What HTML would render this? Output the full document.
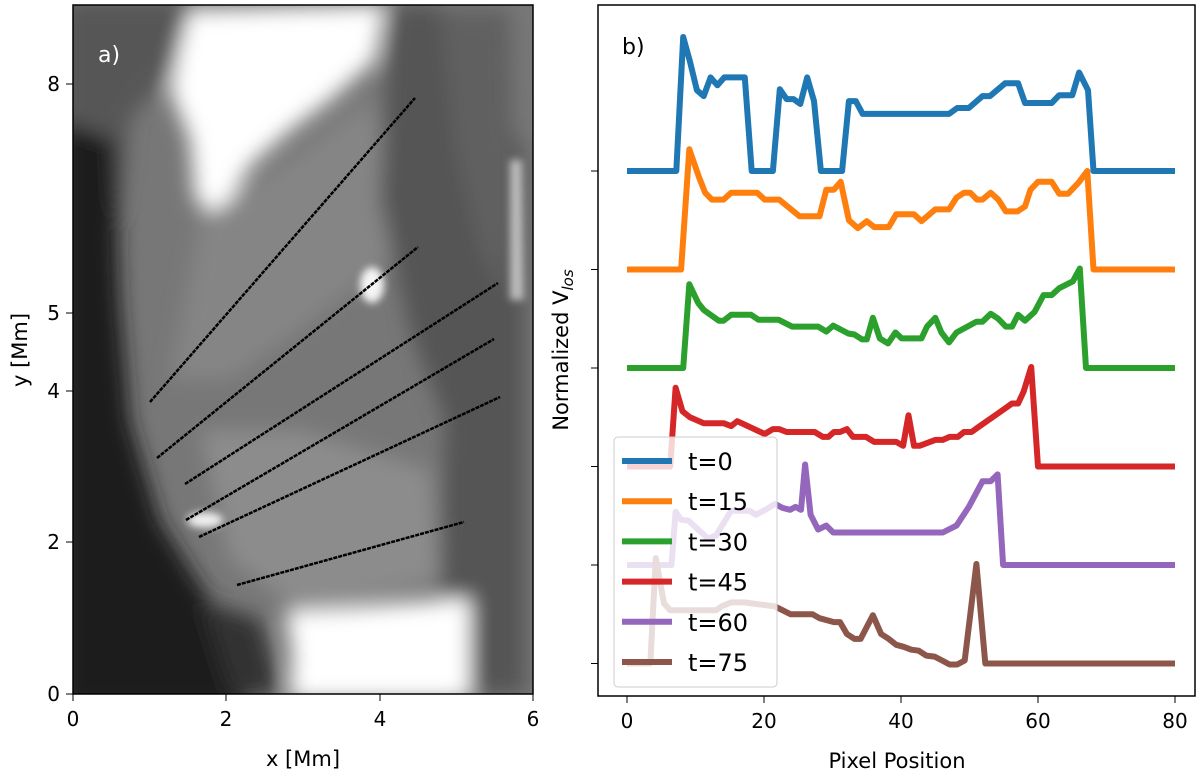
<!DOCTYPE html>
<html><head><meta charset="utf-8">
<style>
body{margin:0;background:#fff;width:1200px;height:779px;overflow:hidden;font-family:"DejaVu Sans","Liberation Sans",sans-serif;}
svg text{font-family:"DejaVu Sans","Liberation Sans",sans-serif;}
</style></head>
<body>
<svg id="fig" width="1200" height="779" viewBox="0 0 1200 779">
<defs>
<filter id="b8" x="-20%" y="-20%" width="140%" height="140%"><feGaussianBlur stdDeviation="10"/></filter>
<filter id="b4" x="-20%" y="-20%" width="140%" height="140%"><feGaussianBlur stdDeviation="4"/></filter>
<clipPath id="lc"><rect x="73" y="5" width="460" height="689"/></clipPath>
</defs>
<g id="left">
<g clip-path="url(#lc)">
<rect x="60" y="0" width="490" height="710" fill="#777"/>
<g filter="url(#b8)">
<polygon points="60,0 200,0 180,60 130,120 110,300 60,300" fill="#575757"/>
<polygon points="60,120 115,140 120,300 130,420 160,520 210,600 250,710 60,710" fill="#1e1e1e"/>
<polygon points="190,10 385,5 375,60 330,100 290,130 250,165 220,220 195,200 190,140 170,90 180,45" fill="#fff"/>
<polygon points="200,220 290,160 370,100 390,160 390,260 300,330 230,380 170,380" fill="#858585"/>
<polygon points="390,5 440,5 525,150 525,694 470,694 440,600 445,420 410,330 380,200" fill="#555"/>
<polygon points="440,10 510,10 515,200 505,300 480,250 455,150" fill="#606060"/>
<polygon points="200,430 300,430 430,470 440,580 300,610 230,560" fill="#8c8c8c"/>
<polygon points="285,612 470,598 470,700 290,700 292,650" fill="#fff"/>
<polygon points="200,600 260,620 280,694 230,694" fill="#333"/>
</g>
<g filter="url(#b4)">
<polygon points="510,160 522,160 524,300 510,300" fill="#bbb"/>
<ellipse cx="372" cy="285" rx="12" ry="18" fill="#f5f5f5"/>
<ellipse cx="205" cy="520" rx="18" ry="8" fill="#eee"/>
</g>
</g>
<g stroke="#000" stroke-width="2.5" stroke-dasharray="4 1">
<line x1="150" y1="402" x2="415" y2="98"/>
<line x1="157" y1="458" x2="418" y2="247"/>
<line x1="185" y1="484" x2="498" y2="283"/>
<line x1="186" y1="520" x2="494" y2="339"/>
<line x1="199" y1="537" x2="500" y2="397"/>
<line x1="237" y1="585" x2="464" y2="522"/>
</g>
<text x="98" y="62" font-size="22" fill="#fff">a)</text>
<rect x="73" y="5" width="460" height="689" fill="none" stroke="#000" stroke-width="1.5"/>
<g font-size="20" text-anchor="middle">
<line x1="73" y1="694" x2="73" y2="701" stroke="#000"/><text x="73" y="726">0</text>
<line x1="226" y1="694" x2="226" y2="701" stroke="#000"/><text x="226" y="726">2</text>
<line x1="380" y1="694" x2="380" y2="701" stroke="#000"/><text x="380" y="726">4</text>
<line x1="533" y1="694" x2="533" y2="701" stroke="#000"/><text x="533" y="726">6</text>
</g>
<g font-size="20" text-anchor="end">
<line x1="66" y1="694" x2="73" y2="694" stroke="#000"/><text x="60" y="701">0</text>
<line x1="66" y1="542" x2="73" y2="542" stroke="#000"/><text x="60" y="549">2</text>
<line x1="66" y1="391" x2="73" y2="391" stroke="#000"/><text x="60" y="398">4</text>
<line x1="66" y1="313" x2="73" y2="313" stroke="#000"/><text x="60" y="320">5</text>
<line x1="66" y1="84" x2="73" y2="84" stroke="#000"/><text x="60" y="91">8</text>
</g>
<text x="303" y="766" font-size="21" text-anchor="middle">x [Mm]</text>
<text transform="translate(27,350) rotate(-90)" font-size="21" text-anchor="middle">y [Mm]</text>
</g>
<g id="right"></g>
</svg>
<script>
const seriesLabels=["t=0","t=15","t=30","t=45","t=60","t=75"];
const seriesColors=["#1f77b4","#ff7f0e","#2ca02c","#d62728","#9467bd","#8c564b"];
const xTicks=[0,20,40,60,80];
const x0=[0,7.2,8.2,9.2,10.2,11.2,12.2,13.2,14.2,17.2,18.2,21.3,22.3,23.3,24.3,25.3,26.3,27.3,28.3,31.4,32.4,33.4,34.4,47,48.2,49.9,51.9,53,55.2,57.1,58.1,62,63.1,65,66,67.3,68.1,80];
const v0=[0,0,1.36,1.11,0.82,0.76,0.95,0.87,0.95,0.95,0,0,0.83,0.73,0.73,0.68,0.95,0.71,0,0,0.71,0.71,0.58,0.58,0.64,0.64,0.76,0.76,0.89,0.89,0.69,0.69,0.77,0.77,1.0,0.82,0,0];
const x15=[0,7.9,9.1,10.5,11.4,12.4,14.1,15.2,19.0,20.1,22.2,25.2,28.1,29.1,30.2,31.2,32.4,33.7,35.0,36.1,38.2,39.3,41.9,43.0,45.0,47.0,48.1,49.2,50.1,51.1,51.9,53.1,54.2,55.3,57.0,58.1,58.9,60.0,62.0,63.1,64.4,65.9,67.2,68.1,80];
const v15=[0,0,1.22,0.94,0.78,0.71,0.71,0.78,0.78,0.71,0.71,0.54,0.54,0.81,0.81,0.89,0.50,0.42,0.49,0.43,0.43,0.56,0.56,0.49,0.61,0.61,0.73,0.78,0.78,0.71,0.71,0.78,0.71,0.59,0.59,0.64,0.81,0.89,0.89,0.77,0.77,0.88,1.0,0,0];
const x30=[0,8.2,9.1,10.4,11.2,13.4,14.1,15.2,18.1,19.2,22.1,24.1,27.9,29.1,30.1,32.3,33.2,34.3,35.0,35.9,36.9,38.1,39.2,40.1,43.0,43.8,45.0,45.9,47.0,48.1,51.0,51.9,53.1,54.2,55.3,56.2,57.1,58.1,59.5,60.8,62.0,63.1,65.1,66.1,67.0,80];
const v30=[0,0,0.85,0.66,0.59,0.48,0.48,0.54,0.54,0.49,0.49,0.42,0.42,0.37,0.43,0.35,0.34,0.29,0.29,0.51,0.30,0.25,0.36,0.30,0.30,0.42,0.51,0.36,0.26,0.36,0.47,0.47,0.55,0.50,0.42,0.42,0.54,0.48,0.57,0.74,0.74,0.81,0.88,1.01,0,0];
const x45=[0,6.3,7.1,8.1,9.2,11.2,14.1,15.2,16.1,20.1,21.3,22.2,23.3,27.4,28.6,29.4,30.2,31.1,32.1,33.0,34.9,36.1,39.3,40.3,41.1,41.9,42.7,45.0,46.1,47.1,48.3,49.2,50.3,51.1,55.2,56.2,57.1,57.9,59.0,60.0,80];
const v45=[0,0,0.80,0.56,0.50,0.44,0.44,0.41,0.46,0.33,0.38,0.38,0.35,0.35,0.30,0.30,0.35,0.35,0.38,0.30,0.30,0.25,0.25,0.21,0.52,0.21,0.21,0.27,0.27,0.30,0.30,0.35,0.35,0.39,0.59,0.64,0.64,0.76,1.01,0,0];
const x60=[0,6.5,7.1,7.9,9.0,11.8,13.0,15.2,17.9,18.8,20.2,21.6,22.7,23.8,24.6,25.4,26.0,26.8,27.9,29.1,30.1,46.1,48.1,49.9,51.9,53.1,54.1,54.9,80];
const v60=[0,0,0.54,0.46,0.45,0.27,0.30,0.55,0.55,0.51,0.56,0.62,0.58,0.56,0.59,0.56,1.02,0.51,0.36,0.40,0.33,0.33,0.40,0.59,0.85,0.85,0.92,0,0];
const x75=[0,3.4,4.2,5.4,6.3,13.0,13.8,15.2,17.1,21.6,23.9,27.1,28.1,30.2,31.1,32.1,33.2,34.1,35.9,37.1,38.2,39.3,40.4,41.5,42.6,43.7,44.9,46.0,47.1,48.2,49.3,51.0,52.3,80];
const v75=[0,0,1.07,0.61,0.54,0.54,0.58,0.62,0.62,0.58,0.50,0.50,0.46,0.42,0.42,0.30,0.25,0.25,0.49,0.30,0.25,0.19,0.17,0.14,0.13,0.08,0.07,0.03,-0.01,-0.01,0.03,1.01,0,0];
const seriesX=[x0,x15,x30,x45,x60,x75];
const seriesV=[v0,v15,v30,v45,v60,v75];

const NS="http://www.w3.org/2000/svg";
const R={l:598,r:1195,t:5,b:696};
function sx(v){return 627+v*(1175-627)/80;}
function sy(k,v){return 171+k*98.5-v*98.5;}
function mk(tag,attrs,parent){const e=document.createElementNS(NS,tag);for(const k in attrs)e.setAttribute(k,attrs[k]);parent.appendChild(e);return e;}
const g=document.getElementById('right');
const cp=mk('clipPath',{id:'rc'},g);mk('rect',{x:R.l,y:R.t,width:R.r-R.l,height:R.b-R.t},cp);
const lines=mk('g',{'clip-path':'url(#rc)'},g);
seriesV.forEach((vals,k)=>{
  const pts=vals.map((v,i)=>sx(seriesX[k][i]).toFixed(1)+','+sy(k,v).toFixed(1)).join(' ');
  const pl=mk('polyline',{points:pts,fill:'none',stroke:seriesColors[k],'stroke-width':6,'stroke-linejoin':'round'},lines);
  
  
});
const fr=mk('rect',{x:R.l,y:R.t,width:R.r-R.l,height:R.b-R.t,fill:'none',stroke:'#000','stroke-width':1.5},g);


xTicks.forEach(t=>{
  mk('line',{x1:sx(t),x2:sx(t),y1:R.b,y2:R.b+7,stroke:'#000'},g);
  const tx=mk('text',{x:sx(t),y:728,'font-size':20,'text-anchor':'middle'},g);
  tx.textContent=t;
  
  
});
seriesLabels.forEach((s,k)=>{mk('line',{x1:R.l-7,x2:R.l,y1:sy(k,0),y2:sy(k,0),stroke:'#000'},g);});
const pb=mk('text',{x:622,y:54,'font-size':22},g);pb.textContent='b)';


const xt=mk('text',{x:897,y:768,'font-size':21,'text-anchor':'middle'},g);xt.textContent='Pixel Position';


const yt=mk('text',{transform:'translate(568,350) rotate(-90)','font-size':21,'text-anchor':'middle'},g);
yt.innerHTML='Normalized V<tspan font-size="15" font-style="italic" dy="5">los</tspan>';


const lg=mk('g',{},g);


mk('rect',{x:614,y:437,width:163,height:250,rx:4,fill:'#fff','fill-opacity':0.8,stroke:'#ccc','stroke-width':1},lg);
seriesLabels.forEach((s,k)=>{
  const y=461+k*40.2;
  const it=mk('g',{},lg);
  
  
  mk('line',{x1:622,x2:672,y1:y,y2:y,stroke:seriesColors[k],'stroke-width':6},it);
  const t=mk('text',{x:688,y:y+9,'font-size':24},it);t.textContent=s;
});
</script>
</body></html>
